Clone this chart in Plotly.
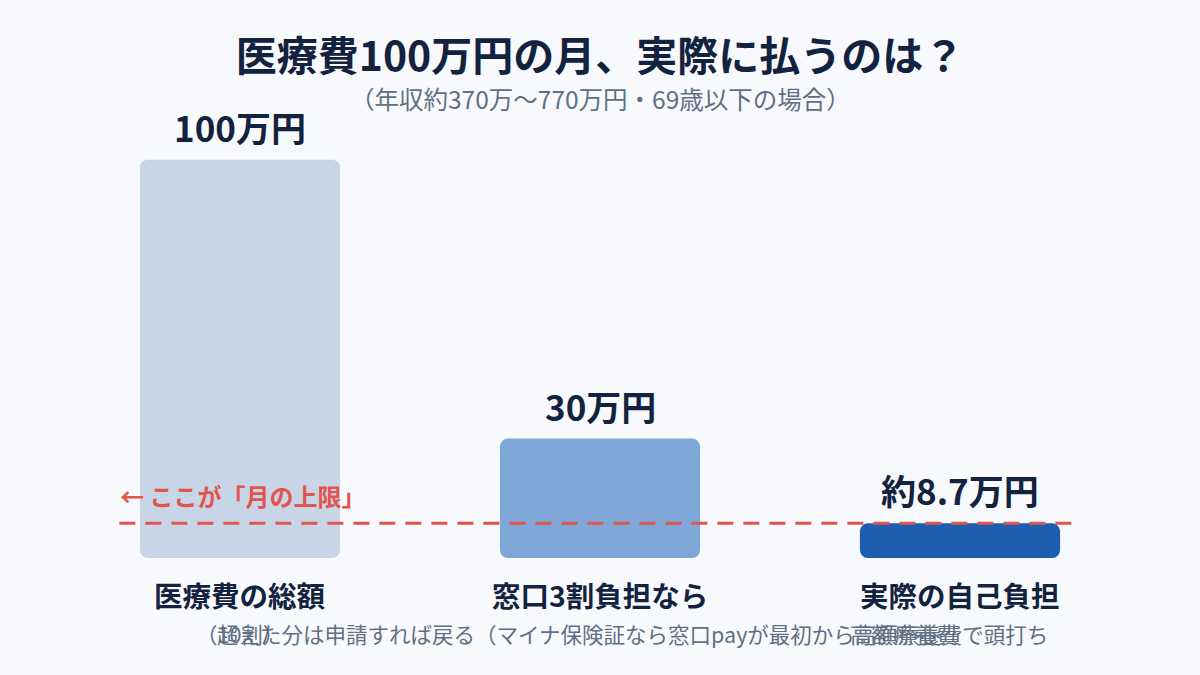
import plotly.graph_objects as go

# データ
categories = ["医療費の総額", "窓口3割負担なら", "実際の自己負担"]
amounts = [100, 30, 8.7]
value_labels = ["100万円", "30万円", "約8.7万円"]
notes = ["（10割）",
         "超えた分は申請すれば戻る（マイナ保険証なら窓口payが最初から高額療養費で頭打ち",
         "高額療養費"]
limit = 8.7
bar_colors = ["#c8d5e6", "#7fa8d9", "#1c5db0"]

FONT = "Noto Sans CJK JP"
NAVY = "#13233f"
GRAY = "#5f7085"
RED = "#e0554d"

x = list(range(len(categories)))

fig = go.Figure()
fig.add_trace(go.Bar(x=x, y=amounts, base=[0] * len(amounts), width=0.556,
                     marker=dict(color=bar_colors, cornerradius=8, line_width=0),
                     hoverinfo="skip"))

# 上限ライン
fig.add_shape(type="line", xref="x", yref="y", x0=-0.335, x1=2.33, y0=limit, y1=limit,
              line=dict(color=RED, width=3, dash="16px,10px"))
fig.add_annotation(x=-0.34, y=limit, xref="x", yref="y", xanchor="left", yanchor="bottom",
                   yshift=8, showarrow=False, text="← ここが「月の上限」",
                   font=dict(family=FONT, size=24, color=RED, weight=700))

for i, (v, lab) in enumerate(zip(amounts, value_labels)):
    fig.add_annotation(x=i, y=v, xref="x", yref="y", yanchor="bottom", yshift=6,
                       showarrow=False, text=lab,
                       font=dict(family=FONT, size=35, color=NAVY, weight=700))

for i, c in enumerate(categories):
    fig.add_annotation(x=i, y=0, xref="x", yref="y", yanchor="top", yshift=-14,
                       showarrow=False, text=c,
                       font=dict(family=FONT, size=28.5, color=NAVY, weight=700))

note_font = dict(family=FONT, size=21.5, color=GRAY)
fig.add_annotation(x=0, y=0, xref="x", yref="y", xanchor="center", yanchor="top", yshift=-58,
                   showarrow=False, text=notes[0], font=note_font)
fig.add_annotation(x=0, y=0, xref="x", yref="y", xanchor="left", yanchor="top", yshift=-58,
                   xshift=-25, showarrow=False, text=notes[1], font=note_font)
fig.add_annotation(x=2, y=0, xref="x", yref="y", xanchor="right", yanchor="top", yshift=-58,
                   showarrow=False, text=notes[2], font=note_font)

fig.add_annotation(x=0.5, y=1, xref="paper", yref="paper", yanchor="bottom", yshift=2,
                   showarrow=False, text="（年収約370万〜770万円・69歳以下の場合）",
                   font=dict(family=FONT, size=24.5, color=GRAY))

fig.update_layout(
    title=dict(text="医療費100万円の月、実際に払うのは？", x=0.5, xanchor="center",
               y=1 - 57 / 675, yanchor="middle",
               font=dict(family=FONT, size=41, color=NAVY, weight=700)),
    width=1200, height=675,
    margin=dict(l=60, r=60, t=120, b=117),
    paper_bgcolor="#f7f9fc", plot_bgcolor="#f7f9fc",
    showlegend=False,
    xaxis=dict(range=[-0.5, 2.5], visible=False, fixedrange=True),
    yaxis=dict(range=[0, 110], visible=False, fixedrange=True),
)

fig.write_html("out.html", config={"displayModeBar": False},
               post_script="document.body.style.margin='0';")
